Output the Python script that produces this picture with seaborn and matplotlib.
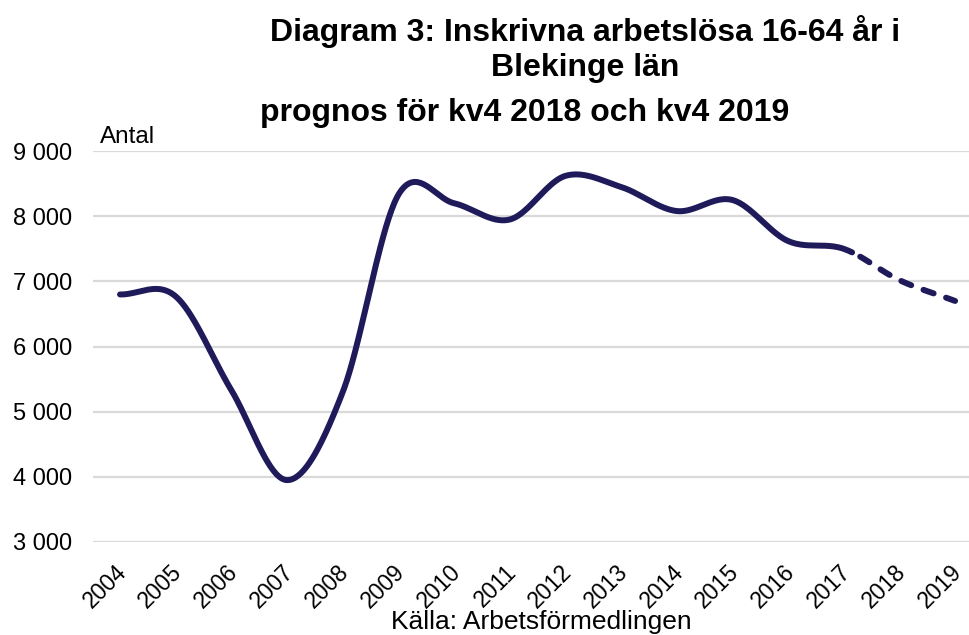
import numpy as np
import pandas as pd
import matplotlib
matplotlib.use("Agg")
import matplotlib.pyplot as plt
import matplotlib.transforms as mtransforms
import seaborn as sns

# ---------------- data ----------------
years = [2004, 2005, 2006, 2007, 2008, 2009, 2010, 2011,
         2012, 2013, 2014, 2015, 2016, 2017, 2018, 2019]
values = [6800, 6770, 5330, 3950, 5300, 8330, 8200, 7950,
          8620, 8450, 8080, 8250, 7620, 7500, 7020, 6700]
forecast_start = 2017
y_ticks = [3000, 4000, 5000, 6000, 7000, 8000, 9000]
y_tick_labels = ["3 000", "4 000", "5 000", "6 000", "7 000", "8 000", "9 000"]
x_tick_labels = [str(y) for y in years]

title_lines = ["Diagram 3: Inskrivna arbetslösa 16-64 år i", "Blekinge län"]
subtitle = "prognos för kv4 2018 och kv4 2019"
y_label = "Antal"
source = "Källa: Arbetsförmedlingen"

LINE_COLOR = "#1F1B5B"
SOLID_OVERRUN = 0.15  # solid stroke runs slightly past the last actual point


def smooth_curve(x, y, n=40):
    """Catmull-Rom style smoothing (like Excel's smoothed line)."""
    x = np.asarray(x, float)
    y = np.asarray(y, float)
    m = np.zeros_like(y)
    m[1:-1] = (y[2:] - y[:-2]) / (x[2:] - x[:-2])
    m[0] = (y[1] - y[0]) / (x[1] - x[0])
    m[-1] = (y[-1] - y[-2]) / (x[-1] - x[-2])
    xs, ys = [], []
    for i in range(len(x) - 1):
        h = x[i + 1] - x[i]
        t = np.linspace(0, 1, n, endpoint=(i == len(x) - 2))
        h00 = 2 * t**3 - 3 * t**2 + 1
        h10 = t**3 - 2 * t**2 + t
        h01 = -2 * t**3 + 3 * t**2
        h11 = t**3 - t**2
        xs.append(x[i] + t * h)
        ys.append(h00 * y[i] + h10 * h * m[i] + h01 * y[i + 1] + h11 * h * m[i + 1])
    return np.concatenate(xs), np.concatenate(ys)


sx, sy = smooth_curve(years, values)
curve = pd.DataFrame({"year": sx, "value": sy})
split = forecast_start + SOLID_OVERRUN
actual = curve[curve["year"] <= split]
forecast = curve[curve["year"] >= split - 0.03]

# ---------------- style ----------------
sns.set_style("white")
plt.rcParams["font.family"] = ["Liberation Sans", "DejaVu Sans"]
plt.rcParams["text.color"] = "black"
plt.rcParams["xtick.color"] = "black"
plt.rcParams["ytick.color"] = "black"
plt.rcParams["xtick.labelcolor"] = "black"
plt.rcParams["ytick.labelcolor"] = "black"

fig = plt.figure(figsize=(9.69, 6.35), dpi=100)
ax = fig.add_axes([0.096, 0.1465, 0.904, 0.6155])

sns.lineplot(data=actual, x="year", y="value", ax=ax, color=LINE_COLOR,
             linewidth=4.3, solid_capstyle="round", sort=False)
sns.lineplot(data=forecast, x="year", y="value", ax=ax, color=LINE_COLOR,
             linewidth=4.3, dashes=False, sort=False)
fl = ax.get_lines()[-1]
fl.set_linestyle((2.2, (1.8, 2.2)))
fl.set_dash_capstyle("round")

ax.set_xlim(2003.515, 2019.25)
ax.set_ylim(3000, 9000)
ax.set_yticks(y_ticks)
ax.set_yticklabels(y_tick_labels, fontsize=17, color="black")
ax.set_xticks(years)
ax.set_xticklabels(x_tick_labels, fontsize=16.5, rotation=45, color="black",
                   ha="right", va="center", rotation_mode="anchor")
ax.tick_params(axis="both", length=0, colors="black")
ax.tick_params(axis="y", pad=15)
ax.tick_params(axis="x", pad=19)
offset = mtransforms.ScaledTranslation(3 / 100, 0, fig.dpi_scale_trans)
for lab in ax.get_xticklabels():
    lab.set_transform(lab.get_transform() + offset)

ax.grid(axis="y", color="#D9D9D9", linewidth=1.6)
ax.grid(axis="x", visible=False)
for s in ax.spines.values():
    s.set_visible(False)
ax.set_xlabel("")
ax.set_ylabel("")

fig.text(0.604, 1 - 32 / 635, title_lines[0], ha="center", va="center",
         fontsize=23, fontweight="bold", color="black")
fig.text(0.604, 1 - 68 / 635, title_lines[1], ha="center", va="center",
         fontsize=23, fontweight="bold", color="black")
fig.text(525 / 969, 1 - 113 / 635, subtitle, ha="center", va="center",
         fontsize=23, fontweight="bold", color="black")
fig.text(100 / 969, 1 - 137 / 635, y_label, ha="left", va="center",
         fontsize=17.5, color="black")
fig.text(541 / 969, 1 - 622 / 635, source, ha="center", va="center",
         fontsize=19, color="black")

fig.savefig("out.png", dpi=100)
